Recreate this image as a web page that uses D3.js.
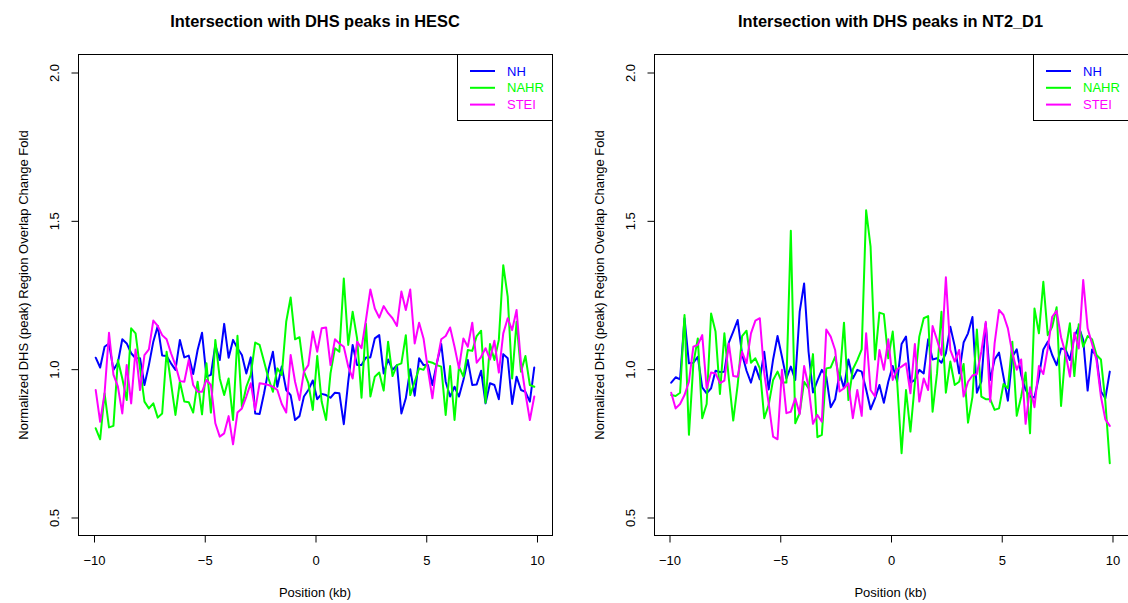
<!DOCTYPE html>
<html>
<head>
<meta charset="utf-8">
<script src="https://cdn.jsdelivr.net/npm/d3@7"></script>
<style>
  html, body { margin: 0; padding: 0; background: #ffffff; }
  svg { display: block; font-family: "Liberation Sans", Arial, Helvetica, sans-serif; }
</style>
</head>
<body>
<svg id="chart" width="1128" height="603"></svg>
<script>
// ---- data ----
const positions = [-9.9,-9.7,-9.5,-9.3,-9.1,-8.9,-8.7,-8.5,-8.3,-8.1,
  -7.9,-7.7,-7.5,-7.3,-7.1,-6.9,-6.7,-6.5,-6.3,-6.1,
  -5.9,-5.7,-5.5,-5.3,-5.1,-4.9,-4.7,-4.5,-4.3,-4.1,
  -3.9,-3.7,-3.5,-3.3,-3.1,-2.9,-2.7,-2.5,-2.3,-2.1,
  -1.9,-1.7,-1.5,-1.3,-1.1,-0.9,-0.7,-0.5,-0.3,-0.1,
  0.1,0.3,0.5,0.7,0.9,1.1,1.3,1.5,1.7,1.9,
  2.1,2.3,2.5,2.7,2.9,3.1,3.3,3.5,3.7,3.9,
  4.1,4.3,4.5,4.7,4.9,5.1,5.3,5.5,5.7,5.9,
  6.1,6.3,6.5,6.7,6.9,7.1,7.3,7.5,7.7,7.9,
  8.1,8.3,8.5,8.7,8.9,9.1,9.3,9.5,9.7,9.9];

const seriesNames = ["NH", "NAHR", "STEI"];
const panelTitles = ["Intersection with DHS peaks in HESC", "Intersection with DHS peaks in NT2_D1"];
const xTicks = [-10, -5, 0, 5, 10];
const yTicks = [0.5, 1.0, 1.5, 2.0];
const xLabel = "Position (kb)";
const yLabel = "Normalized DHS (peak) Region Overlap Change Fold";

const hescNH = [1.037,1.004,1.074,1.085,0.996,1.020,1.099,1.085,1.052,1.035,
  1.035,0.945,1.012,1.091,1.144,1.044,1.043,1.018,0.996,1.097,
  1.038,1.044,0.982,1.063,1.121,0.973,0.979,1.080,1.029,1.151,
  1.037,1.097,1.069,1.046,0.984,1.038,0.849,0.847,0.917,0.996,
  1.057,0.939,1.007,0.928,0.911,0.827,0.840,0.906,0.928,0.960,
  0.897,0.915,0.911,0.902,0.919,0.917,0.813,0.956,1.080,1.012,
  1.012,1.038,1.038,1.102,1.113,0.984,1.031,0.996,1.012,0.849,
  0.900,0.998,0.909,1.035,1.012,1.012,0.945,1.018,1.083,0.956,
  0.906,0.939,0.906,0.962,1.029,0.945,0.947,0.993,0.883,0.951,
  0.945,0.897,1.049,1.035,0.881,0.973,0.928,0.922,0.889,1.004];

const hescNAHR = [0.799,0.762,0.917,0.802,0.807,1.029,0.967,0.894,1.136,1.119,
  1.001,0.889,0.866,0.883,0.835,0.849,1.057,0.951,0.844,0.956,
  0.889,0.887,0.852,0.956,0.846,1.018,0.852,1.097,0.967,0.911,
  0.967,0.827,1.111,0.870,0.939,0.979,1.088,1.080,1.024,0.967,
  0.922,1.001,0.979,1.158,1.240,1.099,1.106,0.990,0.951,0.861,
  1.043,0.889,0.827,0.984,1.069,1.057,1.304,1.080,1.192,1.102,
  0.902,1.151,0.906,0.973,0.987,0.926,1.091,0.975,1.012,1.018,
  1.113,0.911,0.956,1.001,0.996,1.024,1.020,1.012,1.007,0.844,
  1.009,0.827,1.007,0.973,1.063,1.060,1.110,1.128,0.885,1.083,
  1.029,1.097,1.349,1.243,0.967,1.158,0.990,1.043,0.945,0.939];

const hescSTEI = [0.928,0.821,0.917,1.121,0.980,0.940,0.849,1.012,0.883,1.065,
  0.928,1.046,1.065,1.162,1.144,1.113,1.099,1.052,1.012,0.958,
  0.956,1.029,0.945,0.922,0.922,0.962,0.945,0.816,0.771,0.782,
  0.840,0.745,0.852,0.866,0.906,0.951,0.861,0.951,0.948,0.945,
  0.939,0.928,0.881,0.852,1.046,0.956,0.894,0.990,1.012,1.125,
  1.057,1.136,1.139,1.012,1.099,1.085,1.074,1.007,0.967,1.091,
  1.069,1.164,1.267,1.203,1.172,1.211,1.187,1.170,1.144,1.260,
  1.198,1.267,1.085,1.155,1.102,0.996,0.900,1.018,1.099,1.110,
  1.139,1.074,1.001,1.102,1.074,1.155,1.020,1.040,1.069,1.031,
  1.094,0.987,1.119,1.170,1.130,1.198,1.018,0.917,0.827,0.906];

const nt2NH = [0.953,0.971,0.964,1.170,1.018,1.020,1.040,0.937,0.917,0.934,
  0.993,0.989,0.990,1.088,1.125,1.164,1.049,0.993,0.953,1.007,
  0.964,1.057,0.930,1.031,1.110,1.040,0.967,1.007,0.962,1.192,
  1.287,1.057,0.920,0.960,0.996,0.973,0.870,0.897,0.984,0.934,
  1.031,0.967,0.996,0.990,0.930,0.863,0.900,0.945,0.885,0.956,
  1.009,0.956,1.083,1.108,0.953,0.962,0.996,0.984,1.099,1.031,
  1.035,1.020,1.052,1.141,1.076,0.984,1.088,1.119,1.174,0.919,
  0.956,1.153,0.962,1.031,1.054,0.973,0.892,1.040,1.065,0.979,
  0.928,0.906,0.903,0.973,1.065,1.091,1.046,1.012,1.068,1.065,
  1.029,1.108,1.141,1.097,0.926,1.065,1.040,0.923,0.900,0.990];

const nt2NAHR = [0.911,0.908,0.919,1.181,0.777,1.018,1.102,0.833,0.881,1.186,
  1.125,0.915,1.119,0.967,0.825,0.945,1.110,1.128,1.020,1.035,
  1.001,0.833,0.878,0.962,0.990,0.953,0.953,1.465,0.816,0.850,
  0.956,0.934,1.049,0.769,0.777,1.001,1.004,1.040,0.962,1.155,
  0.894,0.998,1.029,1.065,1.534,1.411,1.031,1.189,1.184,1.035,
  1.125,0.956,0.715,0.928,0.788,0.951,1.108,1.170,1.177,0.855,
  0.984,1.192,0.919,1.024,0.945,0.956,1.016,0.818,0.905,1.132,
  0.906,0.897,0.897,0.861,0.866,0.948,0.934,1.091,0.841,0.906,
  0.987,0.782,1.203,1.119,1.293,1.113,1.141,1.207,0.874,1.057,
  1.153,0.975,1.150,1.074,1.110,1.099,1.046,1.031,0.889,0.681];

const nt2STEI = [0.919,0.866,0.881,0.911,0.956,1.074,1.080,1.113,0.934,0.987,
  0.984,0.951,0.960,1.085,0.975,0.973,1.057,1.018,1.119,1.162,
  1.170,0.984,0.883,0.771,0.762,0.996,0.850,0.855,0.900,0.847,
  1.009,0.939,0.814,0.844,0.821,1.132,1.108,1.063,0.923,0.934,
  0.951,0.833,0.928,0.841,1.119,0.928,0.906,1.063,0.996,1.099,
  0.962,0.998,1.007,1.018,0.917,1.083,0.889,0.967,0.928,1.144,
  1.097,1.046,1.308,1.063,1.024,1.063,0.906,0.956,0.977,0.982,
  1.057,1.158,0.889,1.085,1.198,1.181,1.136,1.052,0.996,1.031,
  0.814,0.937,0.870,1.009,0.982,1.068,1.175,1.195,1.106,1.052,
  0.973,1.121,1.068,1.299,1.136,1.083,1.029,0.906,0.829,0.807];

// ---- styling / layout ----
const colors = {"NH": "#0000FF", "NAHR": "#00FF00", "STEI": "#FF00FF"};
const panels = [
  {title: panelTitles[0], left: 78, right: 552, series: {"NH": hescNH, "NAHR": hescNAHR, "STEI": hescSTEI}},
  {title: panelTitles[1], left: 653.5, right: 1127.5, series: {"NH": nt2NH, "NAHR": nt2NAHR, "STEI": nt2STEI}}
];
const plotTop = 54, plotBottom = 535;
const fontSize = 13;

const svg = d3.select("#chart");

const y = d3.scaleLinear().domain([0.4393, 2.0607]).range([plotBottom, plotTop]);

panels.forEach(p => {
  const g = svg.append("g");
  const x = d3.scaleLinear().domain([-10.7, 10.7]).range([p.left, p.right]);

  // lines
  const line = d3.line()
    .x((d, i) => x(positions[i]))
    .y(d => y(d));
  seriesNames.forEach(name => {
    g.append("path")
      .datum(p.series[name])
      .attr("d", line)
      .attr("fill", "none")
      .attr("stroke", colors[name])
      .attr("stroke-width", 2)
      .attr("stroke-linejoin", "round")
      .attr("stroke-linecap", "round");
  });

  // box
  g.append("rect")
    .attr("x", Math.round(p.left) + 0.5)
    .attr("y", plotTop + 0.5)
    .attr("width", Math.round(p.right) - Math.round(p.left))
    .attr("height", plotBottom - plotTop)
    .attr("fill", "none")
    .attr("stroke", "#000")
    .attr("stroke-width", 1);

  // x axis
  const xAxis = g.append("g")
    .attr("transform", `translate(0.5,${plotBottom + 0.5})`)
    .call(d3.axisBottom(x).tickValues(xTicks).tickSize(7).tickSizeOuter(0).tickPadding(13)
      .tickFormat(d3.format("d")));
  xAxis.select(".domain").remove();
  xAxis.selectAll("line").attr("stroke", "#000");
  xAxis.selectAll("text")
    .attr("font-size", fontSize)
    .attr("font-family", "Liberation Sans, Arial, sans-serif")
    .attr("fill", "#000");

  // y axis
  const yAxis = g.append("g")
    .attr("transform", `translate(${Math.round(p.left) + 0.5},0.5)`)
    .call(d3.axisLeft(y).tickValues(yTicks).tickSize(7).tickSizeOuter(0)
      .tickFormat(d3.format(".1f")));
  yAxis.select(".domain").remove();
  yAxis.selectAll("line").attr("stroke", "#000");
  yAxis.selectAll("text")
    .attr("transform", "rotate(-90)")
    .attr("x", 0)
    .attr("y", -20)
    .attr("dy", 0)
    .attr("text-anchor", "middle")
    .attr("font-size", fontSize)
    .attr("font-family", "Liberation Sans, Arial, sans-serif")
    .attr("fill", "#000");

  // title
  g.append("text")
    .attr("x", (p.left + p.right) / 2)
    .attr("y", 26.5)
    .attr("text-anchor", "middle")
    .attr("font-weight", "bold")
    .attr("font-size", 16.4)
    .attr("fill", "#000")
    .text(p.title);

  // x label
  g.append("text")
    .attr("x", (p.left + p.right) / 2)
    .attr("y", 597)
    .attr("text-anchor", "middle")
    .attr("font-size", fontSize)
    .attr("fill", "#000")
    .text(xLabel);

  // y label
  g.append("text")
    .attr("transform", `translate(${p.left - 50},285) rotate(-90)`)
    .attr("text-anchor", "middle")
    .attr("font-size", fontSize)
    .attr("fill", "#000")
    .text(yLabel);

  // legend
  const lx = Math.round(p.right) - 95;
  const leg = g.append("g");
  leg.append("rect")
    .attr("x", lx + 0.5).attr("y", plotTop + 0.5)
    .attr("width", 95).attr("height", 66)
    .attr("fill", "#fff").attr("stroke", "#000").attr("stroke-width", 1);
  seriesNames.forEach((name, i) => {
    const ry = 71 + i * 16.8;
    leg.append("line")
      .attr("x1", lx + 13).attr("x2", lx + 38)
      .attr("y1", ry).attr("y2", ry)
      .attr("stroke", colors[name]).attr("stroke-width", 2);
    leg.append("text")
      .attr("x", lx + 50).attr("y", ry)
      .attr("dy", "0.35em")
      .attr("font-size", fontSize)
      .attr("fill", colors[name])
      .text(name);
  });
});
</script>
</body>
</html>
